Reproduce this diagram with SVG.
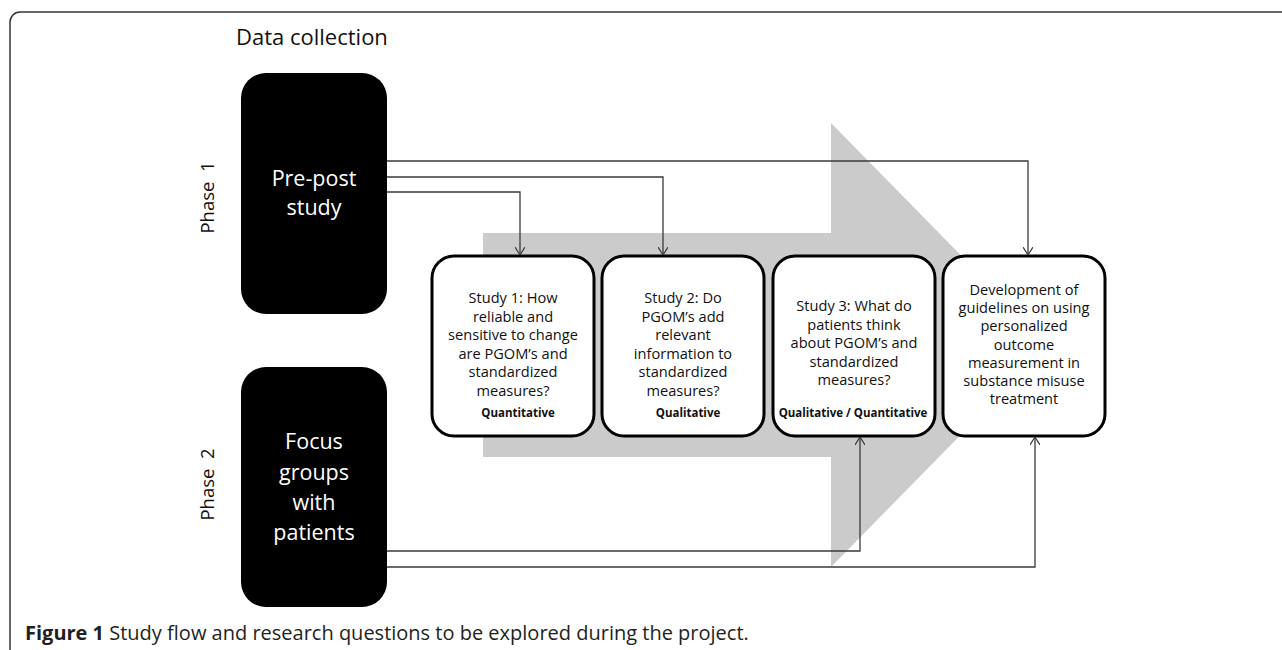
<svg xmlns="http://www.w3.org/2000/svg" width="1282" height="650" viewBox="0 0 1282 650">
<style>
text{font-family:"Open Sans","Liberation Sans",sans-serif;}
.frame{fill:none;stroke:#333;stroke-width:1.5;}
.black{fill:#000;}
.wt{fill:#fff;font-size:21.5px;text-anchor:middle;}
.phase{fill:#111;font-size:18.5px;text-anchor:middle;white-space:pre;}
.study{fill:#fff;stroke:#000;stroke-width:3;}
.st{fill:#111;font-size:14.6px;text-anchor:middle;}
.meth{fill:#111;font-size:11.5px;font-weight:bold;text-anchor:middle;white-space:pre;}
.conn{fill:none;stroke:#3a3a3a;stroke-width:1.3;}
.big{fill:#cbcbcb;}
</style>
<defs>
<marker id="ah" viewBox="0 0 8 10" refX="8" refY="5" markerWidth="8" markerHeight="10" markerUnits="userSpaceOnUse" orient="auto">
<path d="M0,0 L8,5 L0,10" fill="none" stroke="#3a3a3a" stroke-width="1.2"/>
</marker>
</defs>
<rect width="1282" height="650" fill="#fff"/>
<path class="frame" d="M10,650 V22 A10,10 0 0 1 20,12 H1282"/>
<text x="236" y="45" style="font-size:22px;fill:#111;">Data collection</text>
<polygon id="bigArrow" class="big" points="483,233 831,233 831,123 1049,345 831,567 831,457 483,457"/>
<g id="prepost">
<rect class="black" x="241" y="73" width="146" height="241" rx="25"/>
<text class="wt" x="314" y="186">Pre-post</text>
<text class="wt" x="314" y="215">study</text>
</g>
<g id="phase1">
<text class="phase" x="214" y="197.5" transform="rotate(-90 214 197.5)" xml:space="preserve">Phase  1</text>
</g>
<g id="focus">
<rect class="black" x="241" y="367" width="146" height="240" rx="25"/>
<text class="wt" x="314" y="449">Focus</text>
<text class="wt" x="314" y="480">groups</text>
<text class="wt" x="314" y="510">with</text>
<text class="wt" x="314" y="540">patients</text>
</g>
<g id="phase2">
<text class="phase" x="214" y="484.5" transform="rotate(-90 214 484.5)" xml:space="preserve">Phase  2</text>
</g>
<g id="study1">
<rect class="study" x="432" y="256" width="162" height="180" rx="22"/>
<text class="st" x="513" y="303">Study 1: How</text>
<text class="st" x="513" y="321.5">reliable and</text>
<text class="st" x="513" y="340">sensitive to change</text>
<text class="st" x="513" y="358.5">are PGOM’s and</text>
<text class="st" x="513" y="377">standardized</text>
<text class="st" x="513" y="395.5">measures?</text>
<text class="meth" x="518" y="417">Quantitative</text>
</g>
<g id="study2">
<rect class="study" x="602" y="256" width="162" height="180" rx="22"/>
<text class="st" x="683" y="303">Study 2: Do</text>
<text class="st" x="683" y="321.5">PGOM’s add</text>
<text class="st" x="683" y="340">relevant</text>
<text class="st" x="683" y="358.5">information to</text>
<text class="st" x="683" y="377">standardized</text>
<text class="st" x="683" y="395.5">measures?</text>
<text class="meth" x="688" y="417">Qualitative</text>
</g>
<g id="study3">
<rect class="study" x="773" y="256" width="162" height="180" rx="22"/>
<text class="st" x="854" y="311">Study 3: What do</text>
<text class="st" x="854" y="329.5">patients think</text>
<text class="st" x="854" y="348">about PGOM’s and</text>
<text class="st" x="854" y="366.5">standardized</text>
<text class="st" x="854" y="385">measures?</text>
<text class="meth" x="853" y="417">Qualitative / Quantitative</text>
</g>
<g id="guidelines">
<rect class="study" x="943" y="256" width="162" height="180" rx="22"/>
<text class="st" x="1024" y="295">Development of</text>
<text class="st" x="1024" y="313.2">guidelines on using</text>
<text class="st" x="1024" y="331.4">personalized</text>
<text class="st" x="1024" y="349.6">outcome</text>
<text class="st" x="1024" y="367.8">measurement in</text>
<text class="st" x="1024" y="386">substance misuse</text>
<text class="st" x="1024" y="404.2">treatment</text>
</g>
<g id="connectors">
<path class="conn" d="M387,161 H1028 V255" marker-end="url(#ah)"/>
<path class="conn" d="M387,177 H663 V255" marker-end="url(#ah)"/>
<path class="conn" d="M387,192 H520 V255" marker-end="url(#ah)"/>
<path class="conn" d="M387,551 H860 V437" marker-end="url(#ah)"/>
<path class="conn" d="M387,567 H1035 V437" marker-end="url(#ah)"/>
</g>
<text x="25" y="640" style="font-size:20px;fill:#231f20;"><tspan font-weight="bold">Figure 1</tspan> Study flow and research questions to be explored during the project.</text>
</svg>
